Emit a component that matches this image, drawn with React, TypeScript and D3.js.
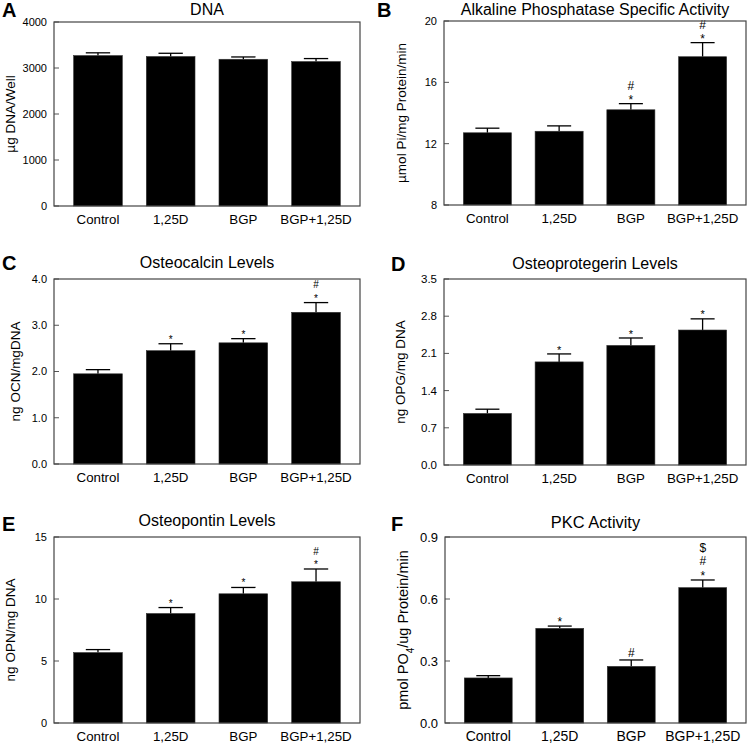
import React from "react";
import * as d3 from "d3";

const categories = ["Control", "1,25D", "BGP", "BGP+1,25D"];

const dnaMean = [3270, 3250, 3190, 3140];
const dnaErr = [60, 70, 50, 65];
const dnaTicks = [0, 1000, 2000, 3000, 4000];

const alpMean = [12.71, 12.81, 14.21, 17.67];
const alpErr = [0.3, 0.35, 0.4, 0.92];
const alpTicks = [8, 12, 16, 20];
const alpSig = [[], [], ["*", "#"], ["*", "#"]];

const ocnMean = [1.95, 2.45, 2.62, 3.28];
const ocnErr = [0.09, 0.15, 0.09, 0.21];
const ocnTicks = [0, 1, 2, 3, 4];
const ocnSig = [[], ["*"], ["*"], ["*", "#"]];

const opgMean = [0.97, 1.94, 2.25, 2.54];
const opgErr = [0.08, 0.15, 0.14, 0.21];
const opgTicks = [0, 0.7, 1.4, 2.1, 2.8, 3.5];
const opgSig = [[], ["*"], ["*"], ["*"]];

const opnMean = [5.68, 8.83, 10.42, 11.39];
const opnErr = [0.24, 0.48, 0.51, 1.03];
const opnTicks = [0, 5, 10, 15];
const opnSig = [[], ["*"], ["*"], ["*", "#"]];

const pkcMean = [0.218, 0.458, 0.274, 0.655];
const pkcErr = [0.011, 0.011, 0.031, 0.037];
const pkcTicks = [0, 0.3, 0.6, 0.9];
const pkcSig = [[], ["*"], ["#"], ["*", "#", "$"]];

const FONT = "'Liberation Sans', Arial, Helvetica, sans-serif";

type Panel = {
  letter: string;
  title: string;
  ylabel: React.ReactNode;
  mean: number[];
  err: number[];
  ticks: number[];
  fmt: (v: number) => string;
  sig: string[][];
  frame: [number, number, number, number];
  letterPos: [number, number];
  titleY: number;
  ylabelX: number;
  tickFs: number;
  labelFs: number;
  xFs: number;
  titleFs: number;
  sigFs: number;
  sigStep: number;
};

const panels: Panel[] = [
  {
    letter: "A", title: "DNA", ylabel: "µg DNA/Well",
    mean: dnaMean, err: dnaErr, ticks: dnaTicks, fmt: d3.format("d"), sig: [[], [], [], []],
    frame: [54, 22, 360, 206], letterPos: [2, 17], titleY: 15, ylabelX: 15,
    tickFs: 11, labelFs: 13.5, xFs: 13.3, titleFs: 16, sigFs: 11, sigStep: 11,
  },
  {
    letter: "B", title: "Alkaline Phosphatase Specific Activity", ylabel: "µmol Pi/mg Protein/min",
    mean: alpMean, err: alpErr, ticks: alpTicks, fmt: d3.format("d"), sig: alpSig,
    frame: [444, 21, 746, 205], letterPos: [377, 17], titleY: 15, ylabelX: 406,
    tickFs: 11, labelFs: 13.5, xFs: 13.3, titleFs: 16, sigFs: 12, sigStep: 10.5,
  },
  {
    letter: "C", title: "Osteocalcin Levels", ylabel: "ng OCN/mgDNA",
    mean: ocnMean, err: ocnErr, ticks: ocnTicks, fmt: d3.format(".1f"), sig: ocnSig,
    frame: [54, 279, 360, 464], letterPos: [2, 270], titleY: 268, ylabelX: 20,
    tickFs: 11, labelFs: 13.5, xFs: 13.3, titleFs: 16, sigFs: 10, sigStep: 11,
  },
  {
    letter: "D", title: "Osteoprotegerin Levels", ylabel: "ng OPG/mg DNA",
    mean: opgMean, err: opgErr, ticks: opgTicks, fmt: d3.format(".1f"), sig: opgSig,
    frame: [444, 279, 746, 465], letterPos: [391, 271], titleY: 269, ylabelX: 405,
    tickFs: 11.5, labelFs: 13.5, xFs: 13.3, titleFs: 16, sigFs: 11, sigStep: 11,
  },
  {
    letter: "E", title: "Osteopontin Levels", ylabel: "ng OPN/mg DNA",
    mean: opnMean, err: opnErr, ticks: opnTicks, fmt: d3.format("d"), sig: opnSig,
    frame: [54, 537, 360, 723], letterPos: [2, 531], titleY: 526, ylabelX: 15,
    tickFs: 11, labelFs: 13.5, xFs: 13.3, titleFs: 16, sigFs: 10, sigStep: 11,
  },
  {
    letter: "F", title: "PKC Activity",
    ylabel: (
      <>
        pmol PO<tspan baselineShift="sub" fontSize="10">4</tspan>/ug Protein/min
      </>
    ),
    mean: pkcMean, err: pkcErr, ticks: pkcTicks, fmt: d3.format(".1f"), sig: pkcSig,
    frame: [445, 537, 746, 723], letterPos: [391, 531], titleY: 528, ylabelX: 408,
    tickFs: 13, labelFs: 14.5, xFs: 14, titleFs: 16.4, sigFs: 12, sigStep: 12.5,
  },
];

const symOffset: Record<string, number> = { "*": 0.6, "#": 0.36, "$": 0.36 };

function PanelView({ p }: { p: Panel }) {
  const [x0, y0, x1, y1] = p.frame;
  const x = d3.scaleBand<string>().domain(categories).range([x0, x1]).paddingInner(0.33).paddingOuter(0.27);
  const y = d3.scaleLinear().domain([p.ticks[0], p.ticks[p.ticks.length - 1]]).range([y1, y0]);
  const bw = x.bandwidth();
  const capW = bw * 0.5;
  const cy = (y0 + y1) / 2;
  return (
    <g fontFamily={FONT} fill="#000">
      <text x={p.letterPos[0]} y={p.letterPos[1]} fontSize={20} fontWeight="bold">{p.letter}</text>
      <text x={(x0 + x1) / 2} y={p.titleY} fontSize={p.titleFs} textAnchor="middle">{p.title}</text>
      <text
        transform={`translate(${p.ylabelX},${cy}) rotate(-90)`}
        fontSize={p.labelFs}
        textAnchor="middle"
      >
        {p.ylabel}
      </text>
      {p.ticks.map((t) => (
        <g key={t}>
          <line x1={x0} x2={x0 + 5} y1={y(t)} y2={y(t)} stroke="#555" strokeWidth={1} />
          <text x={x0 - 7} y={y(t)} dy="0.35em" fontSize={p.tickFs} textAnchor="end">{p.fmt(t)}</text>
        </g>
      ))}
      {categories.map((c, i) => {
        const bx = x(c)!;
        const top = y(p.mean[i]);
        const et = y(p.mean[i] + p.err[i]);
        const mx = bx + bw / 2;
        return (
          <g key={c}>
            <line x1={mx} x2={mx} y1={top} y2={et} stroke="#000" strokeWidth={1.3} />
            <line x1={mx - capW / 2} x2={mx + capW / 2} y1={et} y2={et} stroke="#000" strokeWidth={1.3} />
            <rect x={bx} y={top} width={bw} height={y1 - top} fill="#000" stroke="#333" strokeWidth={0.6} />
            {p.sig[i].map((s, k) => {
              const center = et - 7 - k * p.sigStep;
              return (
                <text key={k} x={mx} y={center + symOffset[s] * p.sigFs} fontSize={p.sigFs} textAnchor="middle">{s}</text>
              );
            })}
            <text x={mx} y={y1 + 18} fontSize={p.xFs} textAnchor="middle">{c}</text>
          </g>
        );
      })}
      <rect x={x0} y={y0} width={x1 - x0} height={y1 - y0} fill="none" stroke="#444" strokeWidth={1.2} />
    </g>
  );
}

export default function App() {
  return (
    <svg
      width={750}
      height={744}
      style={{ position: "absolute", left: 0, top: 0, background: "#fff" }}
    >
      <rect width={750} height={744} fill="#fff" />
      {panels.map((p) => (
        <PanelView key={p.letter} p={p} />
      ))}
    </svg>
  );
}
